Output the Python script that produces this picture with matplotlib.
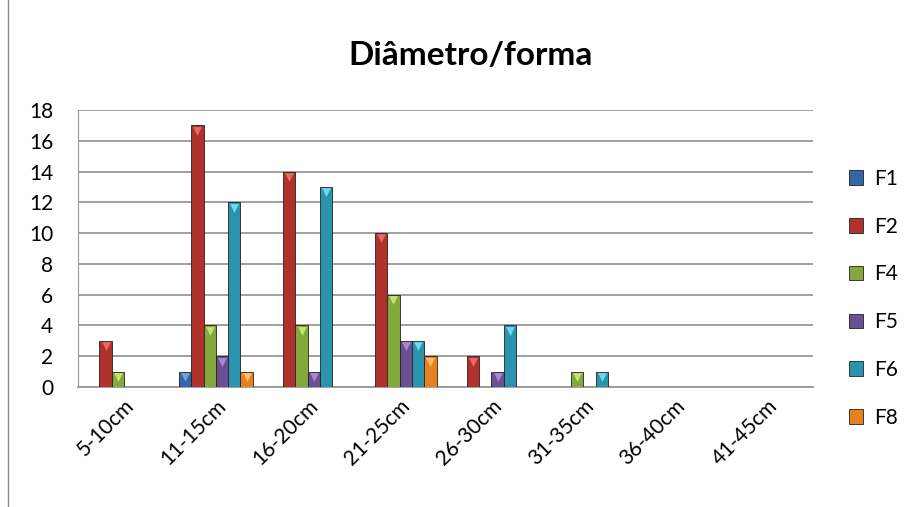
import matplotlib.pyplot as plt
import numpy as np

plt.rcParams['font.family'] = ['Lato', 'DejaVu Sans']

# classes de diâmetro
categories = ['5-10cm', '11-15cm', '16-20cm', '21-25cm', '26-30cm', '31-35cm', '36-40cm', '41-45cm']
series = ['F1', 'F2', 'F4', 'F5', 'F6', 'F8']
F1 = [0, 1, 0, 0, 0, 0, 0, 0]
F2 = [3, 17, 14, 10, 2, 0, 0, 0]
F4 = [1, 4, 4, 6, 0, 1, 0, 0]
F5 = [0, 2, 1, 3, 1, 0, 0, 0]
F6 = [0, 12, 13, 3, 4, 1, 0, 0]
F8 = [0, 1, 0, 2, 0, 0, 0, 0]
values = [F1, F2, F4, F5, F6, F8]

colors = ['#3366a8', '#b0302c', '#84a83c', '#6b4f93', '#2a93ae', '#e7801f']
tops = ['#6fa0e0', '#e86a66', '#c4e274', '#a98ad0', '#6fd8ef', '#ffbe6a']

fig = plt.figure(figsize=(9.17, 5.07), dpi=100)
ax = fig.add_axes([0.0851, 0.2367, 0.8015, 0.5464])

x = np.arange(len(categories))
w = 0.134
for i, (name, vals) in enumerate(zip(series, values)):
    pos = x + (i - 2.5) * w
    v = np.array(vals)
    m = v > 0
    ax.bar(pos[m], v[m], width=w, color=colors[i], edgecolor='#222222', linewidth=0.6,
           label=name, zorder=3)
    ax.scatter(pos[m], v[m] - 0.35, marker='v', s=40, color=tops[i], zorder=4, linewidths=0)

ax.set_xlim(-0.5, len(categories) - 0.5)
ax.set_ylim(0, 18)
ax.set_yticks(range(0, 19, 2))
ax.set_xticks(x)
ax.set_xticklabels(categories, rotation=45, ha='right', rotation_mode='anchor', fontsize=15)
ax.tick_params(axis='y', labelsize=15, length=0, pad=18)
ax.tick_params(axis='x', length=0, pad=6)
ax.grid(axis='y', color='#999999', linewidth=1.3, zorder=0)
for s in ['top', 'right']:
    ax.spines[s].set_visible(False)
ax.spines['left'].set_color('#999999')
ax.spines['bottom'].set_color('#999999')
ax.spines['bottom'].set_linewidth(1.3)

fig.text(0.513, 0.89, 'Diâmetro/forma', ha='center', va='center', fontsize=24, fontweight='bold')

ax.legend(loc='center left', bbox_to_anchor=(1.023, 0.32), frameon=False, fontsize=15,
          handlelength=0.7, handleheight=0.7, labelspacing=1.33, handletextpad=0.5)

fig.patches.append(plt.Rectangle((0.009, -0.01), 1.1, 1.1, transform=fig.transFigure,
                                 fill=False, edgecolor='#888888', linewidth=1))

fig.savefig('out.png', dpi=100)
